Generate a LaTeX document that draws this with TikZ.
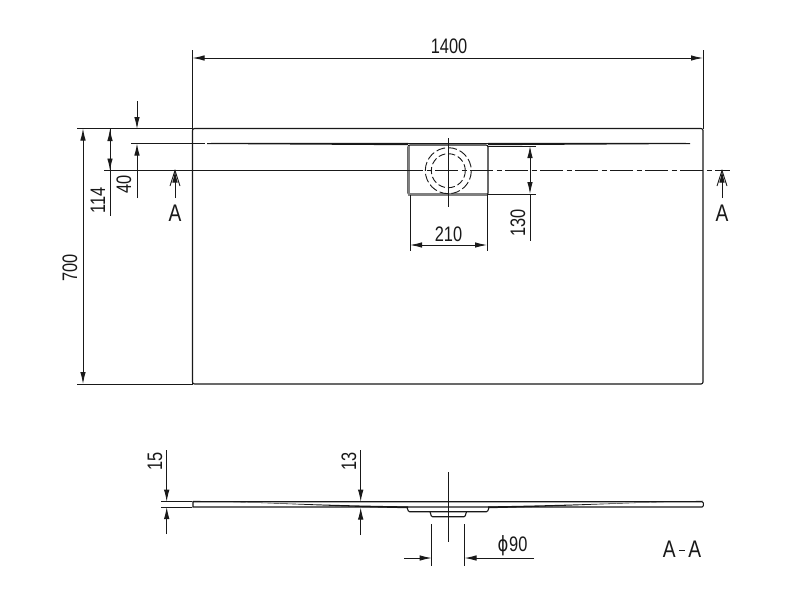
\documentclass[tikz,border=0pt]{standalone}
\usepackage{fontspec}
\setmainfont{Liberation Sans}
\newfontfamily\symfont{DejaVu Sans}
\usetikzlibrary{arrows.meta,calc}
\definecolor{inkgray}{gray}{0.1}
\tikzset{
    dimline/.style={draw=inkgray,line width=0.9pt},
    dimarrow/.style={dimline,-{Latex[length=12pt,width=5.5pt]}},
    dimboth/.style={dimline,{Latex[length=12pt,width=5.5pt]}-{Latex[length=12pt,width=5.5pt]}},
    dimtext/.style={inner sep=0pt,text=inkgray,font=\fontsize{21}{23}\selectfont,xscale=0.78,transform shape},
    dimtextv/.style={inner sep=0pt,text=inkgray,font=\fontsize{21}{23}\selectfont,rotate=90,xscale=0.78,transform shape},
    sectext/.style={inner sep=0pt,text=inkgray,font=\fontsize{24}{26}\selectfont,xscale=0.8,transform shape},
    outline/.style={draw=inkgray,line width=1.1pt},
    centerline/.style={draw=inkgray,line width=0.9pt}
}
\begin{document}
\begin{tikzpicture}[x=1pt,y=-1pt]
    \useasboundingbox (0,0) rectangle (800,600);
    \fill[white] (0,0) rectangle (800,600);

    % Plan view
    \draw[outline,rounded corners=2pt] (192.5,128.5) rectangle (703,384);
    \draw[outline] (207,143.5) -- (690,143.5);
    \fill[inkgray] (207,143) -- (408,142.8) -- (408,145.2) -- (207,144) -- cycle;
    \fill[inkgray] (488,142.8) -- (690,143) -- (690,144) -- (488,145.2) -- cycle;

    % Drain
    \draw[outline,rounded corners=2pt] (408,145) rectangle (488,195);
    \draw[draw=gray,line width=2.2pt] (409,146) -- (409,194.5) -- (487,194.5);
    \draw[dimline,dash pattern=on 9pt off 3pt] (448.3,170.7) circle (23);
    \draw[dimline,dash pattern=on 7pt off 3pt] (448.3,170.7) circle (17);
    \draw[centerline] (448.3,138) -- (448.3,207);

    % Section line
    \draw[centerline] (104,170.5) -- (408,170.5);
    \draw[centerline,dash pattern=on 23pt off 3.5pt on 5pt off 3.5pt] (400,170.5) -- (730,170.5);
    \foreach \secx/\secname in {175/secleft,722/secright}{
        \draw[dimarrow] (\secx,198) -- (\secx,170.5);
        \draw[dimline] (\secx-5,186) -- (\secx,170.5) -- (\secx+5,186);
        \node[sectext] (\secname) at (\secx,213.5) {A};
    }

    % Overall dimensions
    \draw[dimline] (192.5,50) -- (192.5,384);
    \draw[dimline] (703,50) -- (703,128.5);
    \draw[dimboth] (192.5,58) -- (703,58);
    \node[dimtext] (len) at (449,46) {1400};
    \draw[dimline] (77,128.5) -- (192.5,128.5);
    \draw[dimline] (77,384) -- (192.5,384);
    \draw[dimboth] (83,128.5) -- (83,384);
    \node[dimtextv] (wid) at (70,268) {700};

    % Channel dimensions
    \draw[dimline] (110,129) -- (110,216);
    \draw[dimboth] (110,129) -- (110,170.5);
    \node[dimtextv] (chanA) at (98,200) {114};
    \draw[dimarrow] (137,101) -- (137,129);
    \draw[dimarrow] (137,198) -- (137,143.5);
    \draw[dimline] (131,143.5) -- (205,143.5);
    \node[dimtextv] (chanB) at (124,184) {40};

    % Drain dimensions
    \draw[dimline] (488,146) -- (536,146);
    \draw[dimline] (488,194) -- (536,194);
    \draw[dimline] (530,194) -- (530,241);
    \draw[dimboth] (530,146) -- (530,194);
    \node[dimtextv] (drainH) at (518,223) {130};
    \draw[dimline] (410,195) -- (410,251);
    \draw[dimline] (487,195) -- (487,251);
    \draw[dimboth] (410,245) -- (487,245);
    \node[dimtext] (drainW) at (448.5,234) {210};

    % Section view
    \draw[outline] (193,501.7) -- (702,501.7) -- (703.3,503) -- (703.3,505.8) -- (702,507) -- (193,507) -- cycle;
    \fill[inkgray] (193,500.8) .. controls (280,503) and (340,507) .. (408,508.2) -- (408,506.4) .. controls (340,505.5) and (280,503) .. cycle;
    \fill[inkgray] (703,500.8) .. controls (620,503) and (550,507) .. (488,508.2) -- (488,506.4) .. controls (550,505.5) and (620,503) .. cycle;
    \draw[outline,rounded corners=1pt] (407,507.3) -- (408.5,511.7) -- (487.5,511.7) -- (489,507.3);
    \draw[outline,rounded corners=1pt] (430,511.7) -- (431.5,516.7) -- (465,516.7) -- (466.5,511.7);
    \draw[centerline] (448.3,472) -- (448.3,542);

    % Section dimensions
    \draw[dimline] (161,501.7) -- (192,501.7);
    \draw[dimline] (161,507) -- (192,507);
    \draw[dimarrow] (166.7,450) -- (166.7,501.7);
    \draw[dimarrow] (166.7,534) -- (166.7,507);
    \node[dimtextv] (rimH) at (155,461) {15};
    \draw[dimarrow] (360.7,450) -- (360.7,501.7);
    \draw[dimarrow] (360.7,535) -- (360.7,507.5);
    \node[dimtextv] (midH) at (349,461) {13};
    \draw[dimline] (431.7,524) -- (431.7,566);
    \draw[dimline] (464.5,524) -- (464.5,566);
    \draw[dimarrow] (404,558) -- (431.7,558);
    \draw[dimarrow] (534,558) -- (464.5,558);
    \node[dimtext] (bore) at (512.5,546) {{\symfont ϕ}\kern1pt 90};
    \node[sectext] (secname) at (682,549) {A\,\rule[6pt]{8pt}{1.2pt}\,A};
\end{tikzpicture}
\end{document}
